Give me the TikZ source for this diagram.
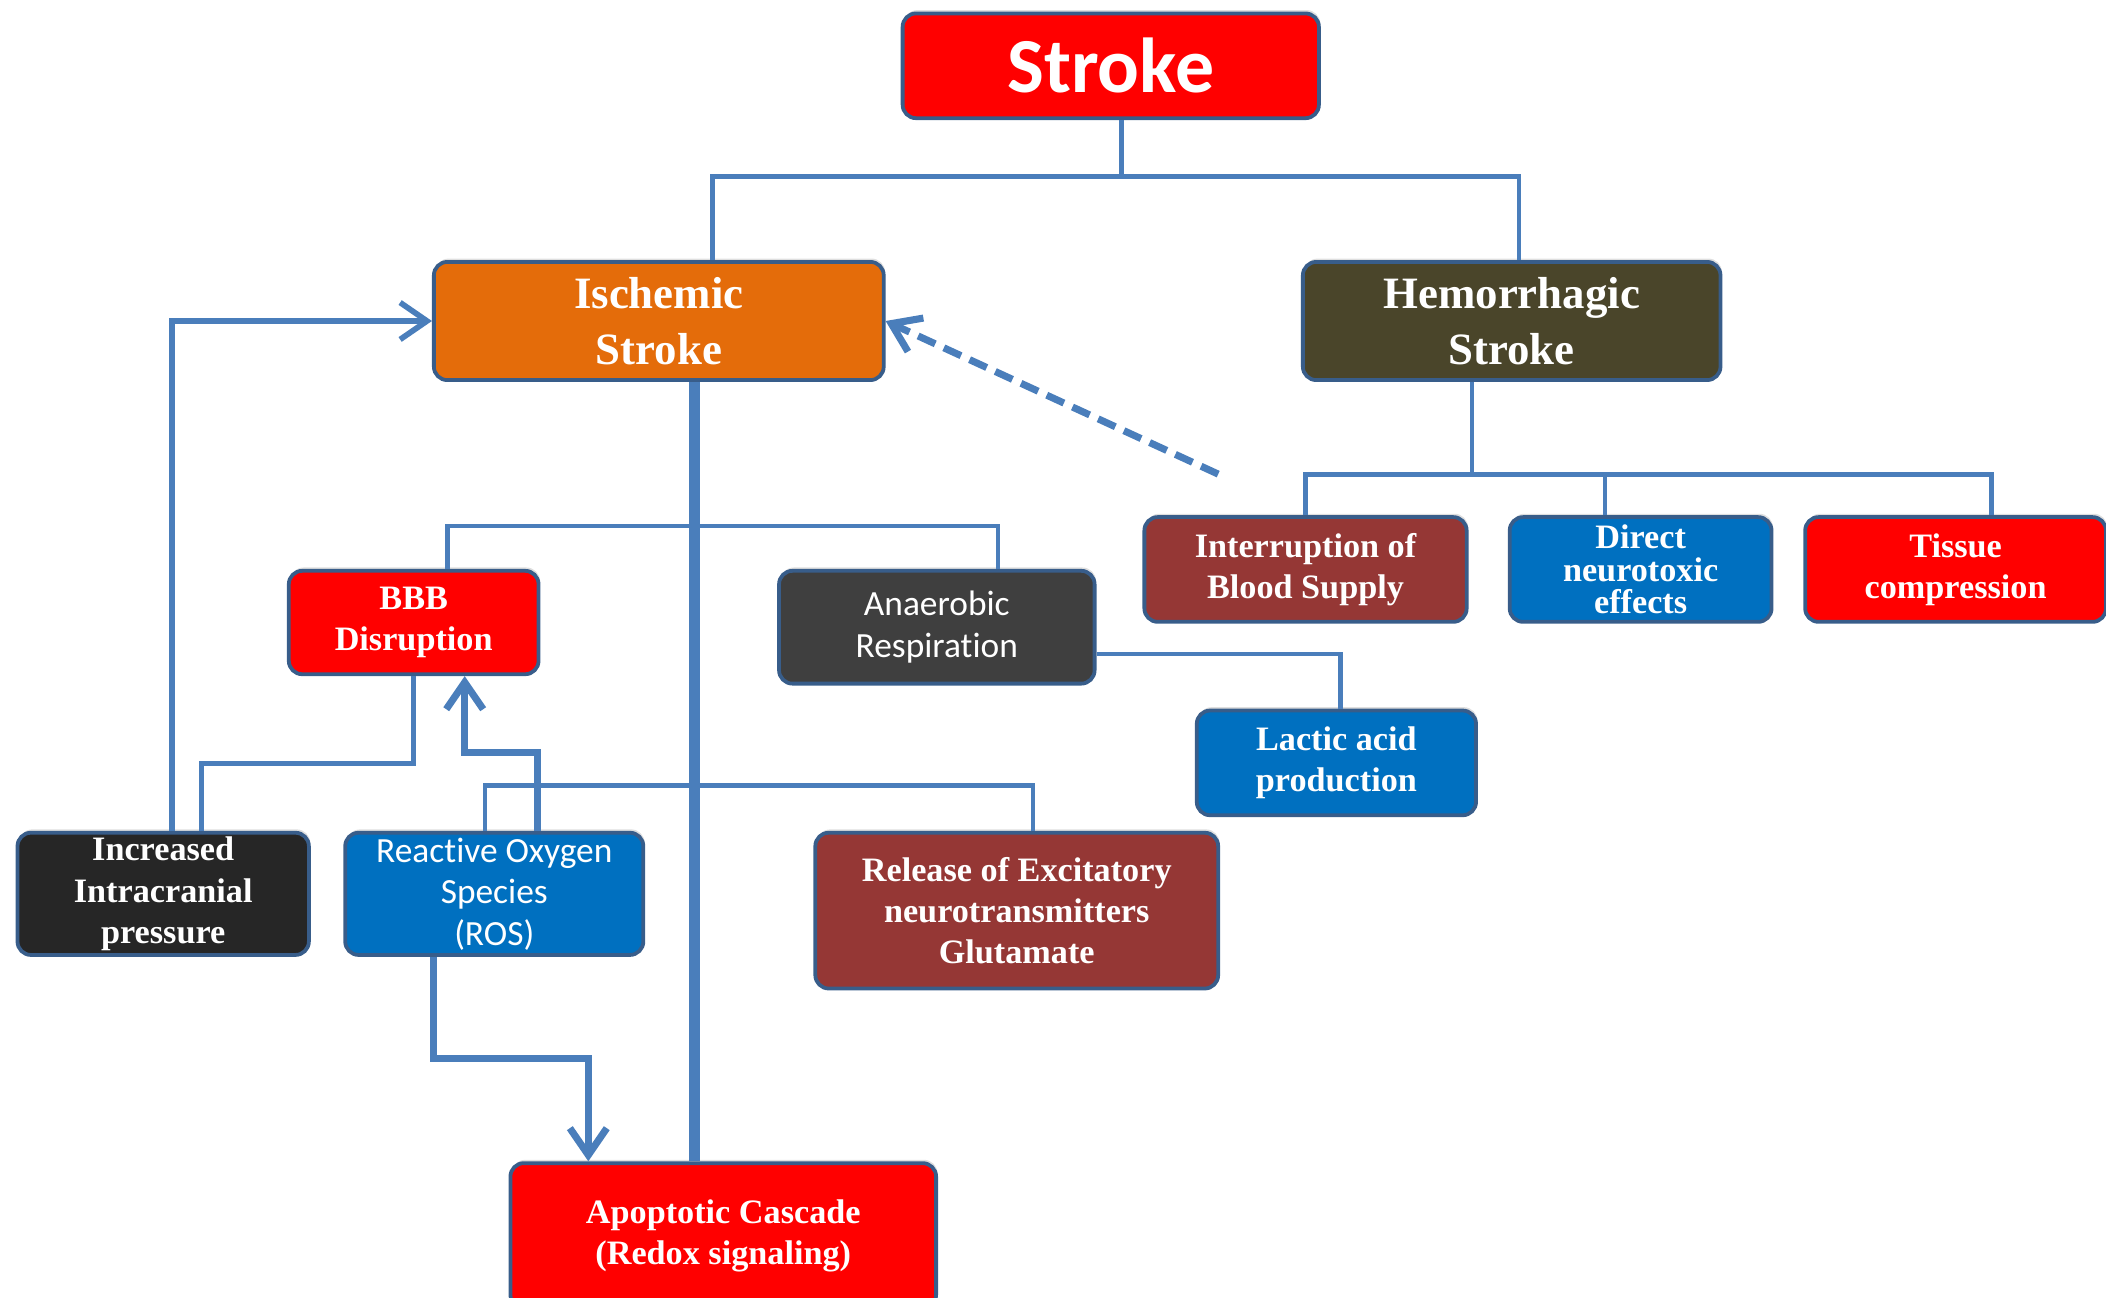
\documentclass[tikz,border=0pt]{standalone}
\usepackage{fontspec}
\setmainfont{Liberation Serif}
\newfontfamily\calibfont[Ligatures=NoCommon]{Carlito}
\usetikzlibrary{arrows.meta}
\usetikzlibrary{shadows}

\definecolor{linkblue}{HTML}{4A7EBB}
\definecolor{edgeblue}{HTML}{385D8A}
\definecolor{boxred}{HTML}{FF0000}
\definecolor{boxorange}{HTML}{E46C0A}
\definecolor{boxolive}{HTML}{4A452A}
\definecolor{boxmaroon}{HTML}{953735}
\definecolor{boxblue}{HTML}{0070C0}
\definecolor{boxgray}{HTML}{3F3F3F}
\definecolor{boxblack}{HTML}{262626}

\begin{document}
\begin{tikzpicture}[x=0.02cm, y=-0.02cm]

\tikzstyle{sknode}=[align=center, draw=edgeblue, line width=1.6pt, rounded corners=0.2cm,
text=white, inner sep=0pt, drop shadow={shadow xshift=0.02cm, shadow yshift=0.05cm, opacity=0.25}]
\tikzstyle{bigtext}=[font=\fontsize{19}{24}\selectfont\bfseries]
\tikzstyle{smalltext}=[font=\fontsize{14.5}{17.5}\selectfont\bfseries]
\tikzstyle{tighttext}=[font=\fontsize{14.5}{13.8}\selectfont\bfseries]
\tikzstyle{sanstext}=[font=\calibfont\fontsize{15}{17.6}\selectfont]
\tikzstyle{link}=[draw=linkblue, line width=2pt]
\tikzstyle{thicklink}=[draw=linkblue, line width=4.5pt]
\tikzstyle{arrowlink}=[link, line width=3pt, -{Straight Barb[length=0.4cm, width=0.55cm]}]
\tikzstyle{dasharrow}=[link, line width=3pt, dash pattern=on 8pt off 4pt, -{Straight Barb[length=0.4cm, width=0.55cm]}]

\useasboundingbox (0,0) rectangle (1568,966);

% top level
\node[sknode, fill=boxred, minimum width=6.2cm, minimum height=1.56cm,
font=\calibfont\bfseries\fontsize{33}{36}\selectfont] (stroke) at (827,49) {Stroke};
\node[sknode, fill=boxorange, minimum width=6.7cm, minimum height=1.76cm, bigtext] (isch) at (490.5,239) {Ischemic\\Stroke};
\node[sknode, fill=boxolive, minimum width=6.22cm, minimum height=1.76cm, bigtext] (hem) at (1125.5,239) {Hemorrhagic\\Stroke};

% hemorrhagic branch
\node[sknode, fill=boxmaroon, minimum width=4.8cm, minimum height=1.56cm, smalltext] (intr) at (972,424) {Interruption of\\Blood Supply};
\node[sknode, fill=boxblue, minimum width=3.9cm, minimum height=1.56cm, tighttext] (direct) at (1221.5,424) {Direct\\neurotoxic\\effects};
\node[sknode, fill=boxred, minimum width=4.48cm, minimum height=1.56cm, smalltext] (tissue) at (1456,424) {Tissue\\compression};

% ischemic branch
\node[sknode, fill=boxred, minimum width=3.72cm, minimum height=1.54cm, smalltext] (bbb) at (308,463.5) {BBB\\Disruption};
\node[sknode, fill=boxgray, minimum width=4.7cm, minimum height=1.68cm, sanstext] (anaer) at (697.5,467) {Anaerobic\\Respiration};
\node[sknode, fill=boxblue, minimum width=4.16cm, minimum height=1.56cm, smalltext] (lactic) at (995,568) {Lactic acid\\production};
\node[sknode, fill=boxblack, minimum width=4.34cm, minimum height=1.82cm, smalltext] (icp) at (121.5,665.5) {Increased\\Intracranial\\pressure};
\node[sknode, fill=boxblue, minimum width=4.44cm, minimum height=1.82cm, sanstext] (ros) at (368,665.5) {Reactive Oxygen\\Species\\(ROS)};
\node[sknode, fill=boxmaroon, minimum width=6cm, minimum height=2.32cm, smalltext] (rel) at (757,678) {Release of Excitatory\\neurotransmitters\\Glutamate};
\node[sknode, fill=boxred, minimum width=6.34cm, minimum height=2.16cm, smalltext] (apop) at (538.5,920) {Apoptotic Cascade\\(Redox signaling)};

% tree links
\draw[link] ([xshift=0.16cm]stroke.south) -- ++(0,42) coordinate (sj);
\draw[link] (sj) -| ([xshift=0.8cm]isch.north);
\draw[link] (sj) -| ([xshift=0.11cm]hem.north);
\draw[link] ([xshift=-0.59cm]hem.south) -- ++(0,69) coordinate (hj);
\draw[link] (hj) -| (intr.north);
\draw[link] (hj) -| ([xshift=-0.53cm]direct.north);
\draw[link] (hj) -| ([xshift=0.54cm]tissue.north);
\draw[thicklink] ([xshift=0.53cm]isch.south) -- ([xshift=0.53cm]isch.south |- apop.north);
\draw[link] ([xshift=0.5cm]bbb.north) -- ++(0,-32) -| ([xshift=0.91cm]anaer.north);
\draw[link] ([xshift=-0.14cm]ros.north) -- ++(0,-34) -| ([xshift=0.24cm]rel.north);
\draw[link] ([yshift=-0.4cm]anaer.east) -| ([xshift=0.06cm]lactic.north);
\draw[link] (bbb.south) -- ++(0,65) -| ([xshift=0.57cm]icp.north);

% arrows
\coordinate (dashstart) at (907,353);
\draw[dasharrow] (dashstart) -- (isch.east);
\draw[arrowlink, line width=2.4pt] ([xshift=0.13cm]icp.north) |- (isch.west);
\draw[arrowlink] ([xshift=0.64cm]ros.north) -- ++(0,-58) -| ([xshift=0.76cm]bbb.south);
\draw[arrowlink] ([xshift=-0.9cm]ros.south) -- ++(0,76) -| ([xshift=-2.01cm]apop.north);
\end{tikzpicture}
\end{document}
